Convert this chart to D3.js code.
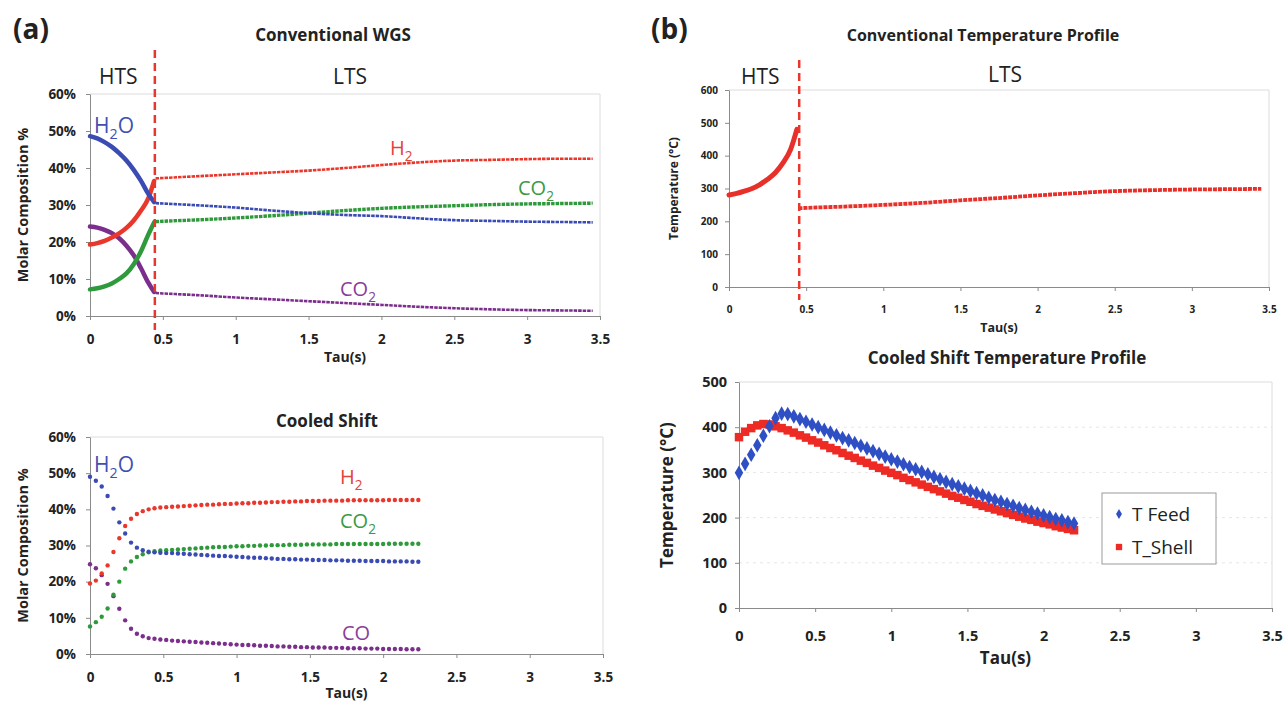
<!DOCTYPE html>
<meta charset="utf-8">
<style>
body{margin:0;background:#fff;}
text{font-family:"Open Sans",sans-serif;}
.tick text{font-weight:bold;fill:#222;}
.axis path,.axis line{stroke:#8a8a8a;}
.frame{stroke:#dcdcdc;fill:none;}
</style>
<body>
<script src="https://d3js.org/d3.v7.min.js"></script>
<script>
// ---- data ----
var tauTicks = [0,0.5,1,1.5,2,2.5,3,3.5];
var tauSplit = 0.445;

// conventional WGS, HTS part
var tauHTS  = [0,0.05,0.1,0.15,0.2,0.25,0.3,0.35,0.4,0.44];
var h2oHTS  = [48.6,48.0,47.0,45.7,44.0,42.0,39.5,36.5,33.0,30.8];
var h2HTS   = [19.3,19.7,20.3,21.2,22.3,23.8,25.8,28.5,31.8,36.5];
var co2HTS  = [7.2,7.5,8.0,8.8,10.0,11.5,14.0,17.5,22.0,25.3];
var coHTS   = [24.2,23.9,23.3,22.4,21.0,19.0,16.4,12.9,9.0,6.5];
// conventional WGS, LTS part
var tauLTS  = [0.45,0.5,0.75,1,1.25,1.5,1.75,2,2.25,2.5,2.75,3,3.25,3.45];
var h2oLTS  = [30.5,30.4,29.9,29.3,28.5,27.8,27.3,27.0,26.4,25.9,25.7,25.5,25.4,25.3];
var h2LTS   = [37.2,37.3,37.8,38.3,38.8,39.3,40.0,40.8,41.5,42.0,42.2,42.4,42.5,42.5];
var co2LTS  = [25.5,25.6,26.0,26.5,27.1,27.8,28.5,29.1,29.5,29.8,30.1,30.3,30.4,30.5];
var coLTS   = [6.2,6.1,5.6,5.0,4.5,4.0,3.5,3.0,2.5,2.1,1.8,1.6,1.5,1.4];

// cooled shift composition
var tauCooled = [0,0.04,0.08,0.12,0.16,0.2,0.24,0.28,0.32,0.36,0.4,0.44,0.48,0.52,0.56,0.6,0.64,0.68,0.72,0.76,
  0.8,0.84,0.88,0.92,0.96,1,1.04,1.08,1.12,1.16,1.2,1.24,1.28,1.32,1.36,1.4,1.44,1.48,1.52,1.56,
  1.6,1.64,1.68,1.72,1.76,1.8,1.84,1.88,1.92,1.96,2,2.04,2.08,2.12,2.16,2.2,2.24];
var h2oCooled = [49.0,47.9,46.3,43.7,40.2,36.4,33.3,30.8,29.4,28.7,28.3,28.1,28.0,27.9,27.9,27.8,27.7,27.6,27.5,27.4,
  27.3,27.2,27.1,27.1,27.0,26.9,26.8,26.7,26.6,26.6,26.5,26.4,26.3,26.3,26.2,26.2,26.1,26.1,26.0,26.0,
  26.0,25.9,25.9,25.9,25.8,25.8,25.8,25.7,25.7,25.7,25.7,25.6,25.6,25.6,25.6,25.5,25.5];
var h2Cooled = [19.5,20.3,22.3,24.5,28.2,32.0,35.4,37.4,38.7,39.5,40.0,40.3,40.5,40.6,40.7,40.8,40.9,41.0,41.1,41.2,
  41.3,41.3,41.4,41.5,41.5,41.6,41.7,41.7,41.8,41.8,41.9,42.0,42.0,42.1,42.1,42.2,42.2,42.3,42.3,42.3,
  42.4,42.4,42.4,42.4,42.5,42.5,42.5,42.5,42.5,42.5,42.5,42.6,42.6,42.6,42.6,42.6,42.6];
var co2Cooled = [7.6,8.8,10.3,12.6,16.4,20.0,23.6,25.6,26.8,27.6,28.1,28.4,28.6,28.7,28.8,28.9,29.0,29.1,29.2,29.3,
  29.4,29.5,29.6,29.6,29.7,29.8,29.8,29.9,29.9,30.0,30.0,30.1,30.1,30.1,30.2,30.2,30.2,30.3,30.3,30.3,
  30.3,30.3,30.4,30.4,30.4,30.4,30.4,30.4,30.4,30.4,30.4,30.5,30.5,30.5,30.5,30.5,30.5];
var coCooled = [24.8,23.7,21.8,19.4,16.0,12.5,9.3,7.0,5.6,4.9,4.4,4.2,4.0,3.9,3.7,3.6,3.5,3.4,3.3,3.2,
  3.1,3.0,2.9,2.8,2.7,2.6,2.5,2.5,2.4,2.3,2.3,2.2,2.1,2.1,2.0,2.0,1.9,1.9,1.8,1.8,
  1.8,1.7,1.7,1.7,1.6,1.6,1.6,1.5,1.5,1.5,1.4,1.4,1.4,1.4,1.3,1.3,1.3];

// conventional temperature profile
var tempHTS = [280,285,292,300,312,328,348,378,420,480];
var tempLTS = [240,241,245,250,256,264,271,279,286,292,295,297,298,299];

// cooled shift temperature profile (same tau grid, ends at 2.2)
var tFeed  = [299,319,339,360,381,402,420,430,429,424,418,412,406,400,394,388,382,376,371,365,
  359,353,347,341,335,329,324,318,312,307,301,296,290,285,279,274,269,264,259,254,
  249,244,239,235,230,226,221,217,213,209,205,201,197,194,190,187];
var tShell = [378,390,398,404,407,406,402,398,393,388,382,377,371,366,360,354,349,343,337,332,
  326,321,315,310,304,299,294,288,283,278,273,268,263,258,253,248,244,239,235,230,
  226,222,218,214,210,206,202,198,195,191,188,185,181,178,175,172];

var pctTicks = [0,10,20,30,40,50,60];
var tempTicks1 = [0,100,200,300,400,500,600];
var tempTicks2 = [0,100,200,300,400,500];

var C = {h2o:"#3a4bb4", h2:"#ea372c", co2:"#2e9a3b", co:"#7b2e8c", feed:"#2f4fc4", shell:"#ee2a24"};

var svg = d3.select("body").append("svg").attr("width",1286).attr("height",704);

function zip(xs, ys){ return ys.map(function(v,i){ return [xs[i], v]; }); }

function panel(o){
  var x = d3.scaleLinear().domain([0,3.5]).range([o.left,o.right]);
  var y = d3.scaleLinear().domain([0,o.yMax]).range([o.bottom,o.top]);
  var g = svg.append("g");
  if(o.grid){
    g.selectAll(".grid").data(o.yTicks.slice(1,-1)).enter().append("line")
      .attr("x1",o.left).attr("x2",o.right).attr("y1",y).attr("y2",y)
      .attr("stroke","#e6e6e6").attr("stroke-dasharray","3,4");
  }
  g.append("path").attr("class","frame")
    .attr("d","M"+o.left+","+o.top+"H"+o.right+"V"+o.bottom);
  g.append("g").attr("class","axis").attr("transform","translate(0,"+o.bottom+")")
    .call(d3.axisBottom(x).tickValues(tauTicks).tickSize(4).tickSizeOuter(0).tickPadding(o.xPad).tickFormat(function(d){return d;}))
    .selectAll("text").style("font-size",o.font+"px");
  g.append("g").attr("class","axis").attr("transform","translate("+o.left+",0)")
    .call(d3.axisLeft(y).tickValues(o.yTicks).tickSize(4).tickSizeOuter(0).tickPadding(o.yPad).tickFormat(o.yFmt))
    .selectAll("text").style("font-size",o.font+"px");
  svg.append("text").attr("x",o.titleX).attr("y",o.titleY).attr("text-anchor","middle")
    .style("font-size",o.titleSize+"px").style("font-weight","bold").attr("fill","#222").text(o.title);
  svg.append("text").attr("x",(o.left+o.right)/2).attr("y",o.tauY).attr("text-anchor","middle")
    .style("font-size",o.tauSize+"px").style("font-weight","bold").attr("fill","#222").text("Tau(s)");
  svg.append("text").attr("transform","translate("+o.yLabX+","+((o.top+o.bottom)/2)+") rotate(-90)")
    .attr("text-anchor","middle").style("font-size",o.yLabSize+"px").style("font-weight","bold")
    .attr("fill","#222").text(o.yLabel);
  return {x:x, y:y, g:g};
}

function chem(x, y, color, parts, size){
  var t = svg.append("text").attr("x",x).attr("y",y).attr("fill",color).style("font-size",size+"px");
  parts.forEach(function(p){
    if(p.sub) t.append("tspan").attr("dy",size*0.28).style("font-size",(size*0.68)+"px").text(p.sub);
    else t.append("tspan").attr("dy",p.up ? -size*0.28 : 0).text(p.t);
  });
}

var pctFmt = function(d){ return d + "%"; };

// ---------- (a) top: Conventional WGS ----------
var A1 = panel({left:90,right:600,top:94,bottom:316,yMax:60,yTicks:pctTicks,yFmt:pctFmt,
  font:13.5,xPad:14,yPad:10,title:"Conventional WGS",titleX:333,titleY:41,titleSize:17,
  tauY:362,tauSize:14,yLabel:"Molar Composition %",yLabX:28,yLabSize:14.5});

var lineA1 = d3.line().x(function(d){return A1.x(d[0]);}).y(function(d){return A1.y(d[1]);}).curve(d3.curveMonotoneX);
[[coHTS,C.co],[co2HTS,C.co2],[h2HTS,C.h2],[h2oHTS,C.h2o]].forEach(function(s){
  A1.g.append("path").attr("d",lineA1(zip(tauHTS,s[0]))).attr("fill","none")
    .attr("stroke",s[1]).attr("stroke-width",4.5).attr("stroke-linecap","round");
});
[[coLTS,C.co],[co2LTS,C.co2],[h2oLTS,C.h2o],[h2LTS,C.h2]].forEach(function(s){
  A1.g.append("path").attr("d",lineA1(zip(tauLTS,s[0]))).attr("fill","none")
    .attr("stroke",s[1]).attr("stroke-width",s[1]===C.co2 ? 3.4 : 2.6).attr("stroke-dasharray","3.5,1");
});
svg.append("line").attr("x1",A1.x(tauSplit)).attr("x2",A1.x(tauSplit)).attr("y1",50).attr("y2",330)
  .attr("stroke","#e8372c").attr("stroke-width",2.5).attr("stroke-dasharray","8,5");

// ---------- (a) bottom: Cooled Shift ----------
var A2 = panel({left:90,right:603,top:437,bottom:654,yMax:60,yTicks:pctTicks,yFmt:pctFmt,
  font:13.5,xPad:14,yPad:10,title:"Cooled Shift",titleX:327,titleY:427,titleSize:17,
  tauY:698,tauSize:14,yLabel:"Molar Composition %",yLabX:28,yLabSize:14.5});
[[coCooled,C.co],[co2Cooled,C.co2],[h2oCooled,C.h2o],[h2Cooled,C.h2]].forEach(function(s){
  A2.g.append("g").selectAll("circle").data(zip(tauCooled,s[0])).enter().append("circle")
    .attr("cx",function(d){return A2.x(d[0]);}).attr("cy",function(d){return A2.y(d[1]);})
    .attr("r",2.2).attr("fill",s[1]);
});

// ---------- (b) top: Conventional Temperature Profile ----------
var B1 = panel({left:729,right:1269,top:90,bottom:287,yMax:600,yTicks:tempTicks1,yFmt:function(d){return d;},
  font:10,xPad:15,yPad:7,title:"Conventional Temperature Profile",titleX:983,titleY:41,titleSize:16,
  tauY:332,tauSize:12.5,yLabel:"Temperature (°C)",yLabX:678,yLabSize:12});
var lineB1 = d3.line().x(function(d){return B1.x(d[0]);}).y(function(d){return B1.y(d[1]);}).curve(d3.curveMonotoneX);
B1.g.append("path").attr("d",lineB1(zip(tauHTS,tempHTS))).attr("fill","none")
  .attr("stroke","#e8302a").attr("stroke-width",5).attr("stroke-linecap","round");
B1.g.append("path").attr("d",lineB1(zip(tauLTS,tempLTS))).attr("fill","none")
  .attr("stroke","#e8302a").attr("stroke-width",3.8).attr("stroke-dasharray","4,1");
svg.append("line").attr("x1",B1.x(0.455)).attr("x2",B1.x(0.455)).attr("y1",60).attr("y2",300)
  .attr("stroke","#e8372c").attr("stroke-width",2.5).attr("stroke-dasharray","8,5");

// ---------- (b) bottom: Cooled Shift Temperature Profile ----------
var B2 = panel({left:739,right:1272,top:382,bottom:608,yMax:500,yTicks:tempTicks2,yFmt:function(d){return d;},
  font:14.5,xPad:19,yPad:8,title:"Cooled Shift Temperature Profile",titleX:1007,titleY:364,titleSize:17,
  tauY:664,tauSize:17,yLabel:"Temperature (°C)",yLabX:673,yLabSize:17,grid:true});
var tauTemp = tauCooled.slice(0, tFeed.length);
B2.g.append("g").selectAll("path").data(zip(tauTemp,tShell)).enter().append("path")
  .attr("d",d3.symbol(d3.symbolSquare,72))
  .attr("transform",function(d){return "translate("+B2.x(d[0])+","+B2.y(d[1])+")";})
  .attr("fill",C.shell);
B2.g.append("g").selectAll("path").data(zip(tauTemp,tFeed)).enter().append("path")
  .attr("d",d3.symbol(d3.symbolDiamond,62))
  .attr("transform",function(d){return "translate("+B2.x(d[0])+","+B2.y(d[1])+")";})
  .attr("fill",C.feed);

// legend
var leg = svg.append("g").attr("transform","translate(1102,493)");
leg.append("rect").attr("width",114).attr("height",71).attr("fill","#fff").attr("stroke","#9a9a9a");
leg.append("path").attr("d",d3.symbol(d3.symbolDiamond,30)).attr("transform","translate(17,21)").attr("fill",C.feed);
leg.append("path").attr("d",d3.symbol(d3.symbolSquare,40)).attr("transform","translate(17,54)").attr("fill",C.shell);
leg.append("text").attr("x",30).attr("y",28).style("font-size","19px").attr("fill","#222").text("T Feed");
leg.append("text").attr("x",30).attr("y",61).style("font-size","19px").attr("fill","#222").text("T_Shell");

// ---------- labels ----------
svg.append("text").attr("x",13).attr("y",39).style("font-size","28px").style("font-weight","bold").attr("fill","#222").text("(a)");
svg.append("text").attr("x",651).attr("y",39).style("font-size","28px").style("font-weight","bold").attr("fill","#222").text("(b)");
[[99,84,"HTS"],[333,84,"LTS"],[741,84,"HTS"],[988,82,"LTS"]].forEach(function(d){
  svg.append("text").attr("x",d[0]).attr("y",d[1]).style("font-size","21px").attr("fill","#222").text(d[2]);
});

chem(94,133,"#4150b0",[{t:"H"},{sub:"2"},{t:"O",up:true}],21);
chem(390,155,"#e2433a",[{t:"H"},{sub:"2"}],20);
chem(518,195,"#3a9a44",[{t:"CO"},{sub:"2"}],20);
chem(340,296,"#8a3d99",[{t:"CO"},{sub:"2"}],20);

chem(94,472,"#4150b0",[{t:"H"},{sub:"2"},{t:"O",up:true}],21);
chem(340,484,"#e2433a",[{t:"H"},{sub:"2"}],20);
chem(340,528,"#3a9a44",[{t:"CO"},{sub:"2"}],20);
chem(342,640,"#8a3d99",[{t:"CO"}],20);
</script>
</body>
</html>
